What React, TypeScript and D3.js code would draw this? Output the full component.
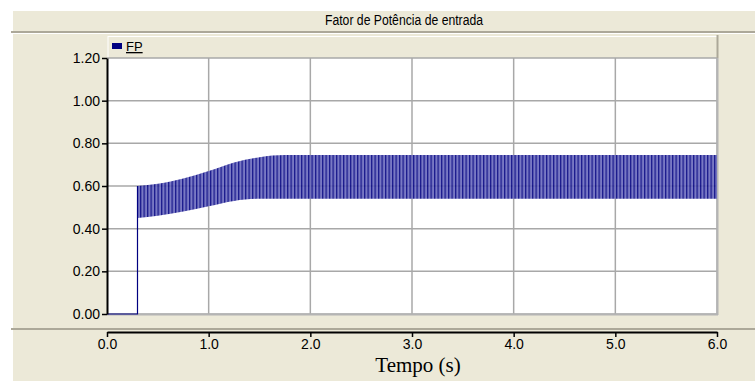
import React, { useRef, useEffect } from 'react';
import * as d3 from 'd3';

// envelope of the FP ripple band
const bandTime = [0.3, 0.5, 0.75, 1.0, 1.25, 1.5, 1.75, 2.0, 3.0, 4.0, 5.0, 6.0];
const bandLow = [0.45, 0.46, 0.48, 0.505, 0.53, 0.54, 0.54, 0.54, 0.54, 0.54, 0.54, 0.54];
const bandHigh = [0.6, 0.61, 0.635, 0.67, 0.71, 0.735, 0.745, 0.745, 0.745, 0.745, 0.745, 0.745];

// FP is zero until the converter starts, then steps up into the band
const stepTime = [0, 0.3, 0.3];
const stepValue = [0, 0, 0.6];

const xTicks = [0, 1, 2, 3, 4, 5, 6];
const yTicks = [0, 0.2, 0.4, 0.6, 0.8, 1.0, 1.2];

const title = 'Fator de Potência de entrada';
const xLabel = 'Tempo (s)';
const seriesName = 'FP';

const W = 755;
const H = 381;
const BEIGE = '#ECE9D8';
const SEP = '#ACA899';
const NAVY = '#000080';

const App = () => {
  const ref = useRef<SVGSVGElement>(null);

  useEffect(() => {
    const svg = d3.select(ref.current);
    svg.selectAll('*').remove();

    const left = 107;
    const right = 717;
    const top = 58;
    const bottom = 314;

    const x = d3.scaleLinear().domain([0, 6]).range([left, right]);
    const y = d3.scaleLinear().domain([0, 1.2]).range([bottom, top]);

    svg.append('rect').attr('width', W).attr('height', H).attr('fill', '#fff');

    // panels: title bar, plot panel, axis panel
    svg.append('rect').attr('x', 13).attr('y', 11).attr('width', W - 13).attr('height', H - 11).attr('fill', BEIGE);
    svg.append('rect').attr('x', 11).attr('y', 31).attr('width', W - 11).attr('height', 2).attr('fill', SEP);
    svg.append('rect').attr('x', 13).attr('y', 33).attr('width', W - 13).attr('height', 1).attr('fill', '#fff');
    svg.append('rect').attr('x', 11).attr('y', 328).attr('width', W - 11).attr('height', 2).attr('fill', SEP);

    svg
      .append('text')
      .attr('x', 404)
      .attr('y', 25)
      .attr('text-anchor', 'middle')
      .attr('font-family', 'Liberation Sans, Arial, sans-serif')
      .attr('font-size', 14)
      .attr('textLength', 158)
      .attr('lengthAdjust', 'spacingAndGlyphs')
      .attr('fill', '#000')
      .text(title);

    // legend strip
    svg.append('rect').attr('x', 108).attr('y', 36).attr('width', right - 108).attr('height', top - 36).attr('fill', BEIGE);
    svg.append('line').attr('x1', 108).attr('x2', 108).attr('y1', 36).attr('y2', top).attr('stroke', '#fff');
    svg.append('line').attr('x1', 108).attr('x2', right).attr('y1', 36.5).attr('y2', 36.5).attr('stroke', '#fff');
    svg.append('line').attr('x1', right + 0.5).attr('x2', right + 0.5).attr('y1', 35).attr('y2', top).attr('stroke', SEP).attr('stroke-width', 2);
    svg.append('rect').attr('x', 112).attr('y', 43).attr('width', 10).attr('height', 6).attr('fill', NAVY);
    svg
      .append('text')
      .attr('x', 126)
      .attr('y', 51)
      .attr('font-family', 'Liberation Sans, Arial, sans-serif')
      .attr('font-size', 13)
      .attr('text-decoration', 'underline')
      .attr('fill', '#000')
      .text(seriesName);

    // plot area
    svg.append('rect').attr('x', left + 1).attr('y', top).attr('width', right - left - 1).attr('height', bottom - top).attr('fill', '#fff');

    const grid = svg.append('g').attr('stroke', '#A8A8A8').attr('stroke-width', 1.5);
    xTicks.slice(1).forEach((t) => {
      grid.append('line').attr('x1', x(t)).attr('x2', x(t)).attr('y1', top).attr('y2', bottom);
    });
    yTicks.forEach((v) => {
      grid.append('line').attr('x1', left).attr('x2', right).attr('y1', y(v)).attr('y2', y(v));
    });
    svg.append('line').attr('x1', right + 0.5).attr('x2', right + 0.5).attr('y1', top).attr('y2', bottom + 1).attr('stroke', '#B4B4B4').attr('stroke-width', 2);
    svg.append('line').attr('x1', left).attr('x2', right + 1).attr('y1', bottom + 0.5).attr('y2', bottom + 0.5).attr('stroke', '#B4B4B4').attr('stroke-width', 2);

    // ripple band: hatch pattern of dense vertical strokes
    const defs = svg.append('defs');
    const pat = defs
      .append('pattern')
      .attr('id', 'ripple')
      .attr('patternUnits', 'userSpaceOnUse')
      .attr('width', 3.5)
      .attr('height', 20);
    pat.append('rect').attr('width', 3.5).attr('height', 20).attr('fill', '#6a6abd');
    pat.append('rect').attr('x', 0).attr('width', 1.3).attr('height', 20).attr('fill', NAVY);

    const band = bandTime.map((t, i) => ({ t, lo: bandLow[i], hi: bandHigh[i] }));
    const area = d3
      .area<{ t: number; lo: number; hi: number }>()
      .x((d) => x(d.t))
      .y0((d) => y(d.lo))
      .y1((d) => y(d.hi))
      .curve(d3.curveMonotoneX);
    svg.append('path').datum(band).attr('d', area).attr('fill', 'url(#ripple)').attr('opacity', 0.9);

    const step = stepTime.map((t, i) => ({ t, v: stepValue[i] }));
    const line = d3
      .line<{ t: number; v: number }>()
      .x((d) => x(d.t))
      .y((d) => y(d.v));
    svg.append('path').datum(step).attr('d', line).attr('fill', 'none').attr('stroke', NAVY).attr('stroke-width', 1.2);

    // y axis
    const yAxis = svg
      .append('g')
      .attr('transform', `translate(${left},0)`)
      .call(d3.axisLeft(y).tickValues(yTicks).tickSize(5).tickSizeOuter(0).tickFormat(d3.format('.2f')));
    yAxis.select('.domain').attr('stroke', '#000').attr('stroke-width', 2);
    yAxis.selectAll('line').attr('stroke', '#000').attr('stroke-width', 1.5);
    yAxis
      .selectAll('text')
      .attr('font-family', 'Liberation Sans, Arial, sans-serif')
      .attr('font-size', 14)
      .attr('fill', '#000')
      .attr('x', -7);

    // x axis sits in its own panel below
    const xAxis = svg
      .append('g')
      .attr('transform', 'translate(0,332)')
      .call(d3.axisBottom(x).tickValues(xTicks).tickSize(5).tickSizeOuter(0).tickFormat(d3.format('.1f')));
    xAxis.select('.domain').attr('stroke', '#000').attr('stroke-width', 2);
    xAxis.selectAll('line').attr('stroke', '#000').attr('stroke-width', 1.5);
    xAxis
      .selectAll('text')
      .attr('font-family', 'Liberation Sans, Arial, sans-serif')
      .attr('font-size', 14)
      .attr('fill', '#000')
      .attr('y', 7);

    svg
      .append('text')
      .attr('x', 418)
      .attr('y', 372)
      .attr('text-anchor', 'middle')
      .attr('font-family', 'Liberation Serif, Times New Roman, serif')
      .attr('font-size', 21)
      .attr('fill', '#000')
      .text(xLabel);
  }, []);

  return (
    <svg
      ref={ref}
      width={W}
      height={H}
      style={{ position: 'absolute', left: 0, top: 0, display: 'block' }}
    ></svg>
  );
};

export default App;
